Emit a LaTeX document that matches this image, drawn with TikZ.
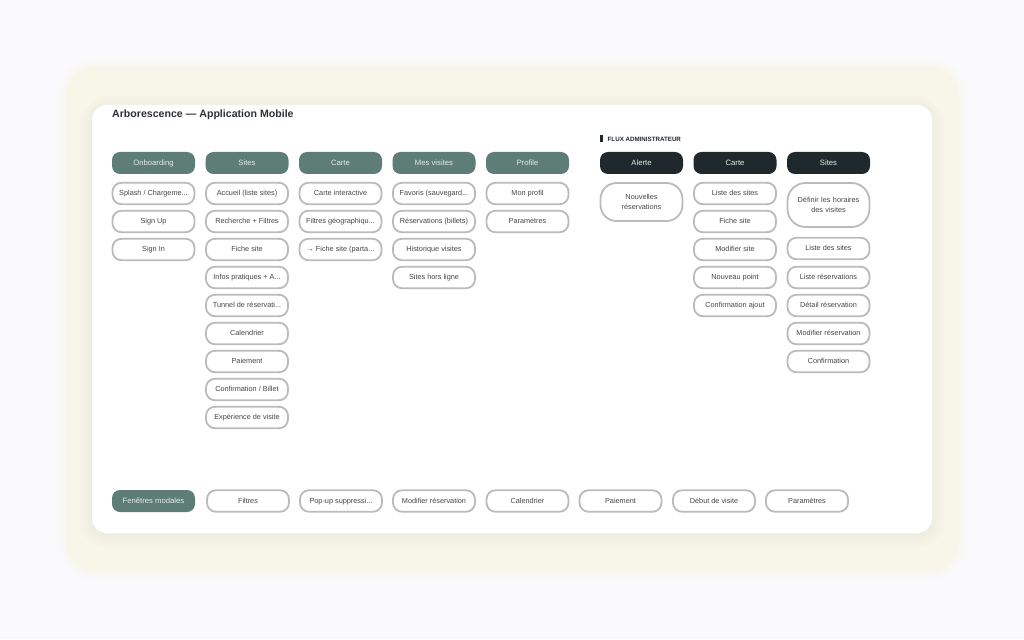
\documentclass[tikz,border=0pt]{standalone}
\usepackage{fontspec}
\setmainfont{Liberation Sans}
\definecolor{pagebg}{HTML}{FAFAFD}
\definecolor{cream}{HTML}{F8F6E9}
\definecolor{teal}{HTML}{5E7D77}
\definecolor{darkhdr}{HTML}{1F292D}
\definecolor{hdrtext}{HTML}{E4ECEA}
\definecolor{bgray}{HTML}{BBBBBB}
\definecolor{itext}{HTML}{454545}
\definecolor{titlec}{HTML}{2E3236}
\begin{document}
\begin{tikzpicture}[x=1pt,y=-1pt,
  hdr/.style={rounded corners=8pt, fill=teal, text=hdrtext, minimum width=83pt, minimum height=22pt, inner sep=0pt, text height=6.0pt, text depth=1.0pt, font=\fontsize{7.7}{9}\selectfont},
  adm/.style={hdr, fill=darkhdr},
  itm/.style={draw=bgray, line width=1.8pt, fill=white, text=itext, rounded corners=9pt, minimum width=82pt, minimum height=21.5pt, inner sep=0pt, text height=5.8pt, text depth=1.0pt, font=\fontsize{7.3}{9}\selectfont},
  tall/.style={itm, rounded corners=16pt, align=center, text width=70pt, text height=, text depth=}]
\useasboundingbox (0,0) rectangle (1024,639);
\fill[pagebg] (0,0) rectangle (1024,639);
% cream block with soft halo
\foreach \d/\o in {10/0.15,7/0.25,4/0.4,2/0.6}{
  \fill[cream, opacity=\o, rounded corners=28pt+\d pt] (68-\d,68-\d) rectangle (957+\d,570+\d);}
\fill[cream, rounded corners=28pt] (68,68) rectangle (957,570);
% card shadow
\foreach \d in {12,9,6,3}{
  \fill[black, opacity=0.009, rounded corners=15pt+\d pt] (92-\d,105-\d+3) rectangle (932+\d,533+\d+3);}
\fill[white, rounded corners=15pt] (92,105) rectangle (932,533);
% title
\node[anchor=base west, font=\bfseries\fontsize{10.6}{12}\selectfont, text=titlec, inner sep=0pt] (title) at (112,117.5) {Arborescence — Application Mobile};
% admin label
\fill[darkhdr] (600,135) rectangle (603,142);
\node[anchor=base west, font=\bfseries\fontsize{6.2}{7}\selectfont, text=darkhdr, inner sep=0pt] (fluxlbl) at (607.5,141.2) {FLUX ADMINISTRATEUR};
% headers
\node[hdr] (h1) at (153.5,163) {Onboarding};
\node[hdr] (h2) at (247,163) {Sites};
\node[hdr] (h3) at (340.5,163) {Carte};
\node[hdr] (h4) at (434,163) {Mes visites};
\node[hdr] (h5) at (527.5,163) {Profile};
\node[adm] (a1) at (641.5,163) {Alerte};
\node[adm] (a2) at (735,163) {Carte};
\node[adm] (a3) at (828.5,163) {Sites};
% Onboarding
\node[itm] (o1) at (153.5,193.5) {Splash / Chargeme...};
\node[itm] (o2) at (153.5,221.5) {Sign Up};
\node[itm] (o3) at (153.5,249.5) {Sign In};
% Sites
\node[itm] (s1) at (247,193.5) {Accueil (liste sites)};
\node[itm] (s2) at (247,221.5) {Recherche + Filtres};
\node[itm] (s3) at (247,249.5) {Fiche site};
\node[itm] (s4) at (247,277.5) {Infos pratiques + A...};
\node[itm] (s5) at (247,305.5) {Tunnel de réservati...};
\node[itm] (s6) at (247,333.5) {Calendrier};
\node[itm] (s7) at (247,361.5) {Paiement};
\node[itm] (s8) at (247,389.5) {Confirmation / Billet};
\node[itm] (s9) at (247,417.5) {Expérience de visite};
% Carte
\node[itm] (c1) at (340.5,193.5) {Carte interactive};
\node[itm] (c2) at (340.5,221.5) {Filtres géographiqu...};
\node[itm] (c3) at (340.5,249.5) {→ Fiche site (parta...};
% Mes visites
\node[itm] (m1) at (434,193.5) {Favoris (sauvegard...};
\node[itm] (m2) at (434,221.5) {Réservations (billets)};
\node[itm] (m3) at (434,249.5) {Historique visites};
\node[itm] (m4) at (434,277.5) {Sites hors ligne};
% Profile
\node[itm] (p1) at (527.5,193.5) {Mon profil};
\node[itm] (p2) at (527.5,221.5) {Paramètres};
% Admin Alerte
\node[tall, minimum height=38pt] (al1) at (641.5,202) {Nouvelles\\[1pt]réservations};
% Admin Carte
\node[itm] (ac1) at (735,193.5) {Liste des sites};
\node[itm] (ac2) at (735,221.5) {Fiche site};
\node[itm] (ac3) at (735,249.5) {Modifier site};
\node[itm] (ac4) at (735,277.5) {Nouveau point};
\node[itm] (ac5) at (735,305.5) {Confirmation ajout};
% Admin Sites
\node[tall, minimum height=44pt, rounded corners=18pt] (as1) at (828.5,205) {Définir les horaires\\[1pt]des visites};
\node[itm] (as2) at (828.5,248.5) {Liste des sites};
\node[itm] (as3) at (828.5,277.5) {Liste réservations};
\node[itm] (as4) at (828.5,305.5) {Détail réservation};
\node[itm] (as5) at (828.5,333.5) {Modifier réservation};
\node[itm] (as6) at (828.5,361.5) {Confirmation};
% Modals row
\node[hdr] (f0) at (153.5,501) {Fenêtres modales};
\node[itm] (f1) at (248,501) {Filtres};
\node[itm] (f2) at (341,501) {Pop-up suppressi...};
\node[itm] (f3) at (434,501) {Modifier réservation};
\node[itm] (f4) at (527.5,501) {Calendrier};
\node[itm] (f5) at (620.5,501) {Paiement};
\node[itm] (f6) at (714,501) {Début de visite};
\node[itm] (f7) at (807,501) {Paramètres};
\end{tikzpicture}
\end{document}
